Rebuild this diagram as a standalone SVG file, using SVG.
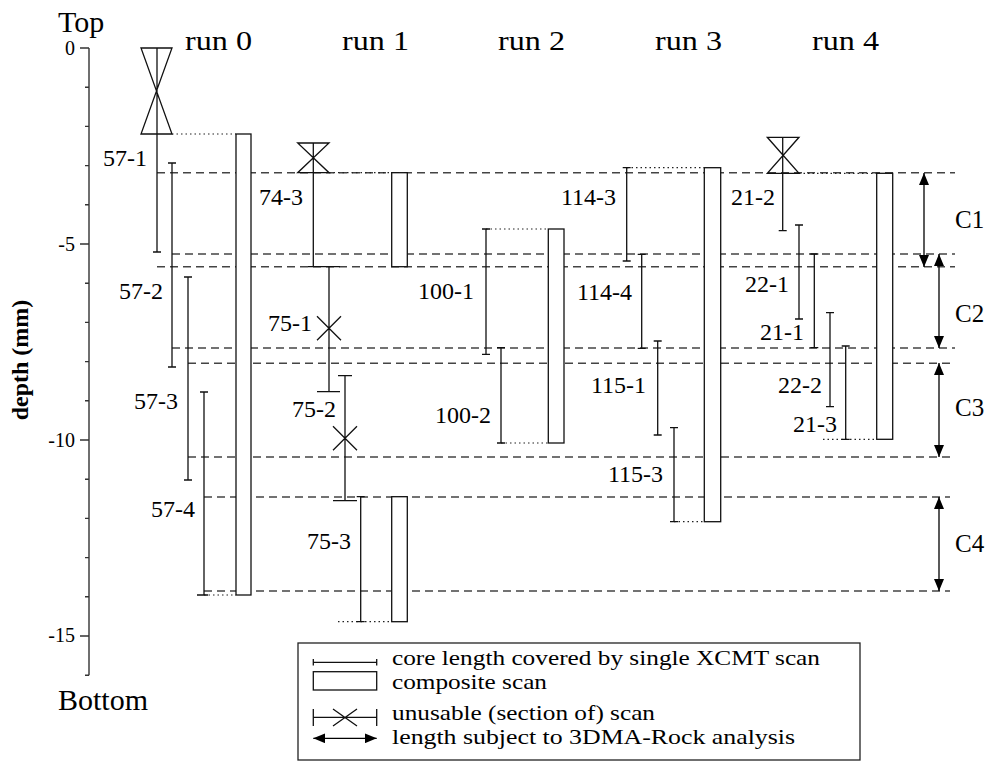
<svg xmlns="http://www.w3.org/2000/svg" width="992" height="762" viewBox="0 0 992 762">
<defs>
<marker id="ah" markerUnits="userSpaceOnUse" markerWidth="13" markerHeight="10" refX="12" refY="5" orient="auto-start-reverse"><path d="M0,0 L12,5 L0,10 z" fill="#000"/></marker>
</defs>
<style>
.lbl{font-size:24px;text-anchor:end}
.run{font-size:28px}
.tick{font-size:20px;text-anchor:end}
.big{font-size:30px}
.c{font-size:25px}
.leg{font-size:22px}
.bar{stroke:#111;stroke-width:1.3;fill:none}
.rect{stroke:#111;stroke-width:1.3;fill:#fff}
.dash{stroke:#444;stroke-width:1.4;stroke-dasharray:8,5;fill:none}
.dot{stroke:#222;stroke-width:1.2;stroke-dasharray:1.5,3;fill:none}
.axis{stroke:#333;stroke-width:1.4;fill:none}
.arr{stroke:#000;stroke-width:1.3;marker-start:url(#ah);marker-end:url(#ah)}
</style>
<rect width="992" height="762" fill="#fff"/>
<g font-family="'Liberation Serif', 'DejaVu Serif', serif" fill="#000">

<g id="axis">
<path class="axis" d="M89,48 V675.2 M80,48 H89 M85,87.2 H89 M85,126.4 H89 M85,165.6 H89 M85,204.8 H89 M80,244 H89 M85,283.2 H89 M85,322.4 H89 M85,361.6 H89 M85,400.8 H89 M80,440 H89 M85,479.2 H89 M85,518.4 H89 M85,557.6 H89 M85,596.8 H89 M80,636 H89 M85,675.2 H89"/>
<text class="tick" x="75" y="55">0</text>
<text class="tick" x="75" y="251">-5</text>
<text class="tick" x="75" y="447">-10</text>
<text class="tick" x="75" y="642">-15</text>
<text class="big" x="58" y="32">Top</text>
<text class="big" x="58" y="710">Bottom</text>
<text transform="translate(28,360) rotate(-90)" style="font-size:24px;font-weight:bold;text-anchor:middle">depth (mm)</text>
</g>

<g id="run-labels">
<text class="run" x="185" y="50" textLength="67" lengthAdjust="spacingAndGlyphs">run 0</text>
<text class="run" x="342" y="50" textLength="67" lengthAdjust="spacingAndGlyphs">run 1</text>
<text class="run" x="498" y="50" textLength="67" lengthAdjust="spacingAndGlyphs">run 2</text>
<text class="run" x="655" y="50" textLength="67" lengthAdjust="spacingAndGlyphs">run 3</text>
<text class="run" x="812" y="50" textLength="67" lengthAdjust="spacingAndGlyphs">run 4</text>
</g>

<g id="connectors">
<path class="dash" d="M157,172.7 H955"/>
<path class="dash" d="M172,254 H955"/>
<path class="dash" d="M157,266.7 H955"/>
<path class="dash" d="M172,348 H955"/>
<path class="dash" d="M188,363.3 H950"/>
<path class="dash" d="M188,457 H950"/>
<path class="dash" d="M204,497 H950"/>
<path class="dash" d="M204,591 H950"/>
<path class="dot" d="M172,134 H236 M204,595 H236"/>
<path class="dot" d="M329,172.7 H392 M338,621.7 H392"/>
<path class="dot" d="M486,229 H548 M501,443 H548"/>
<path class="dot" d="M627,167.7 H704 M674,521.7 H704"/>
<path class="dot" d="M799,173.3 H877 M823,439.3 H877"/>
<line class="arr" x1="924" y1="173" x2="924" y2="267"/>
<line class="arr" x1="939" y1="254" x2="939" y2="348"/>
<line class="arr" x1="939" y1="363" x2="939" y2="457"/>
<line class="arr" x1="939" y1="497" x2="939" y2="591"/>
</g>

<g id="scan-57-1"><path class="bar" d="M157,48 V252 M153,252 H161 M141,48 H172 L141,134 H172 Z"/><text class="lbl" x="147" y="166">57-1</text></g>
<g id="scan-57-2"><path class="bar" d="M172,163 V367 M168,163 H176 M168,367 H176"/><text class="lbl" x="163" y="299">57-2</text></g>
<g id="scan-57-3"><path class="bar" d="M188,277 V480 M184,277 H192 M184,480 H192"/><text class="lbl" x="178" y="409">57-3</text></g>
<g id="scan-57-4"><path class="bar" d="M204,392 V595 M200,392 H208 M197,595 H208"/><text class="lbl" x="195" y="517">57-4</text></g>
<g id="composite-run0"><rect class="rect" x="236" y="134" width="15" height="461"/></g>

<g id="scan-74-3"><path class="bar" d="M313.3,143 V266.7 M308,266.7 H318 M297.7,143 H329 L297.7,172.7 H329 Z"/><text class="lbl" x="303" y="205">74-3</text></g>
<g id="scan-75-1"><path class="bar" d="M329,266.7 V391.7 M318,266.7 H340 M317,391.7 H340 M317,316.3 L341,340.3 M341,316.3 L317,340.3"/><text class="lbl" x="312" y="331">75-1</text></g>
<g id="scan-75-2"><path class="bar" d="M345,375.7 V500.7 M338,375.7 H352 M333,500.7 H357 M333,426.3 L357,450.3 M357,426.3 L333,450.3"/><text class="lbl" x="336" y="417">75-2</text></g>
<g id="scan-75-3"><path class="bar" d="M360.7,496.7 V621.7 M356.7,496.7 H364.7 M356.7,621.7 H364.7"/><text class="lbl" x="351" y="549">75-3</text></g>
<g id="composite-run1-a"><rect class="rect" x="391.7" y="172.7" width="15.6" height="94"/></g>
<g id="composite-run1-b"><rect class="rect" x="391.7" y="496.7" width="15.6" height="125"/></g>

<g id="scan-100-1"><path class="bar" d="M486,229 V354.3 M482,229 H490 M482,354.3 H490"/><text class="lbl" x="474" y="299">100-1</text></g>
<g id="scan-100-2"><path class="bar" d="M501,347.7 V443 M497,347.7 H505 M497,443 H505"/><text class="lbl" x="491" y="423">100-2</text></g>
<g id="composite-run2"><rect class="rect" x="548.3" y="229" width="15.7" height="214"/></g>

<g id="scan-114-3"><path class="bar" d="M626.7,167.7 V261 M622.7,167.7 H630.7 M622.7,261 H630.7"/><text class="lbl" x="616" y="205">114-3</text></g>
<g id="scan-114-4"><path class="bar" d="M641.7,254.3 V348.3 M637.7,254.3 H645.7 M637.7,348.3 H645.7"/><text class="lbl" x="632" y="300">114-4</text></g>
<g id="scan-115-1"><path class="bar" d="M657.7,341 V435 M653.7,341 H661.7 M653.7,435 H661.7"/><text class="lbl" x="646" y="393">115-1</text></g>
<g id="scan-115-3"><path class="bar" d="M674,427.7 V521.7 M670,427.7 H678 M670,521.7 H678"/><text class="lbl" x="663" y="482">115-3</text></g>
<g id="composite-run3"><rect class="rect" x="704.3" y="167.7" width="16.4" height="354"/></g>

<g id="scan-21-2"><path class="bar" d="M782.7,137.3 V230.7 M778.7,230.7 H786.7 M767.3,137.3 H799 L767.3,173.3 H799 Z"/><text class="lbl" x="775" y="205">21-2</text></g>
<g id="scan-22-1"><path class="bar" d="M799,225 V319 M795,225 H803 M795,319 H803"/><text class="lbl" x="789" y="292">22-1</text></g>
<g id="scan-21-1"><path class="bar" d="M814.3,254 V347.7 M810.3,254 H818.3 M810.3,347.7 H818.3"/><text class="lbl" x="804" y="340">21-1</text></g>
<g id="scan-22-2"><path class="bar" d="M830,312.7 V406.7 M826,312.7 H834 M826,406.7 H834"/><text class="lbl" x="822" y="393">22-2</text></g>
<g id="scan-21-3"><path class="bar" d="M845.7,346 V439.3 M841.7,346 H849.7 M841.7,439.3 H849.7"/><text class="lbl" x="837" y="432">21-3</text></g>
<g id="composite-run4"><rect class="rect" x="876.7" y="173.3" width="16" height="266"/></g>

<g id="c-labels">
<text class="c" x="955" y="228">C1</text>
<text class="c" x="955" y="322">C2</text>
<text class="c" x="955" y="416">C3</text>
<text class="c" x="955" y="552">C4</text>
</g>

<g id="legend">
<rect x="298" y="643" width="562" height="117" fill="#fff" stroke="#222" stroke-width="1.3"/>
<path class="bar" d="M313.3,662.3 H376.7 M313.3,659 V665.6 M376.7,659 V665.6"/>
<rect class="rect" x="313.3" y="671.7" width="63.4" height="18.3"/>
<path class="bar" d="M313.3,717.3 H376.7 M313.3,709 V726 M376.7,709 V726 M333,709 L357,726 M357,709 L333,726"/>
<line class="arr" x1="313.3" y1="738.3" x2="376.7" y2="738.3"/>
<text class="leg" x="392" y="665" textLength="428" lengthAdjust="spacingAndGlyphs">core length covered by single XCMT scan</text>
<text class="leg" x="392" y="689" textLength="155" lengthAdjust="spacingAndGlyphs">composite scan</text>
<text class="leg" x="392" y="720" textLength="263" lengthAdjust="spacingAndGlyphs">unusable (section of) scan</text>
<text class="leg" x="392" y="744" textLength="403" lengthAdjust="spacingAndGlyphs">length subject to 3DMA-Rock analysis</text>
</g>
</g>
</svg>
